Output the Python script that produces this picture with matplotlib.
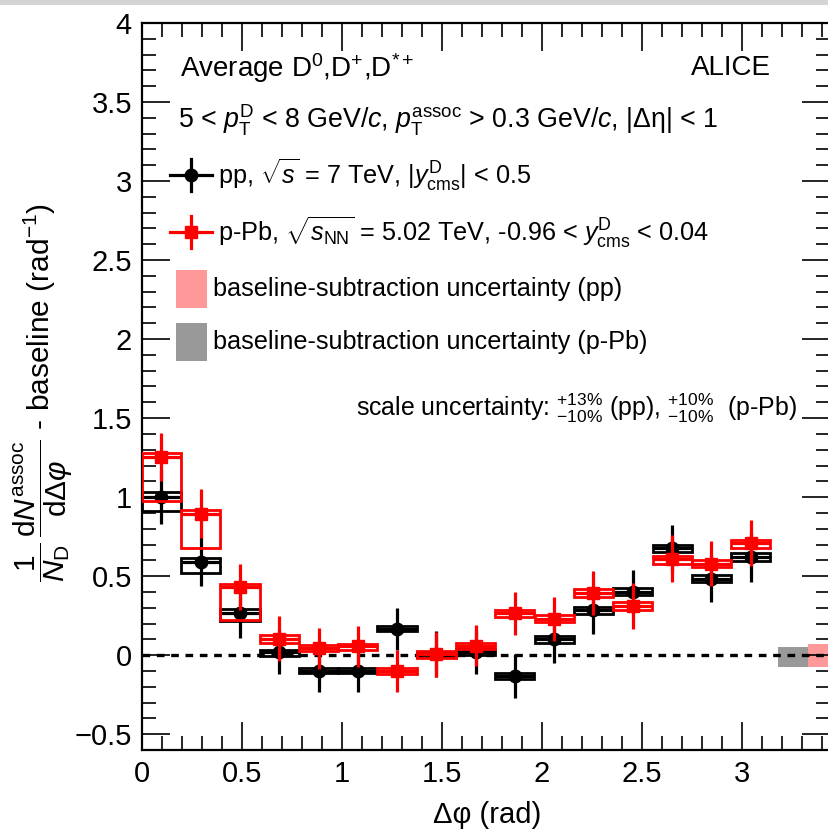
import matplotlib
matplotlib.use("Agg")
import matplotlib.pyplot as plt
from matplotlib.ticker import MultipleLocator, FuncFormatter
from matplotlib.lines import Line2D
from matplotlib.patches import Rectangle

plt.rcParams['font.family'] = ['Liberation Sans', 'DejaVu Sans']
plt.rcParams['mathtext.fontset'] = 'custom'
plt.rcParams['mathtext.rm'] = 'Liberation Sans'
plt.rcParams['mathtext.it'] = 'Liberation Sans:italic'
plt.rcParams['mathtext.bf'] = 'Liberation Sans:bold'
plt.rcParams['mathtext.sf'] = 'Liberation Sans'

# ---------------- data ----------------
dphi = [0.098, 0.295, 0.491, 0.687, 0.884, 1.080, 1.276, 1.473,
        1.669, 1.865, 2.062, 2.258, 2.454, 2.651, 2.847, 3.043]
half_width = 0.098

pp_val = [1.00, 0.59, 0.27, 0.02, -0.10, -0.10, 0.165, 0.005,
          0.02, -0.13, 0.10, 0.285, 0.40, 0.675, 0.485, 0.62]
pp_stat = [0.17, 0.155, 0.16, 0.14, 0.135, 0.135, 0.135, 0.145,
           0.14, 0.14, 0.15, 0.15, 0.14, 0.15, 0.15, 0.155]
pp_sys_up = [0.03, 0.025, 0.02, 0.015, 0.017, 0.017, 0.017, 0.017,
             0.017, 0.02, 0.02, 0.022, 0.022, 0.025, 0.025, 0.025]
pp_sys_lo = [0.09, 0.07, 0.053, 0.027, 0.015, 0.015, 0.015, 0.017,
             0.017, 0.02, 0.02, 0.022, 0.022, 0.025, 0.025, 0.025]

ppb_val = [1.255, 0.895, 0.43, 0.105, 0.045, 0.055, -0.10, 0.005,
           0.06, 0.265, 0.23, 0.395, 0.31, 0.61, 0.58, 0.71]
ppb_stat = [0.15, 0.155, 0.145, 0.14, 0.13, 0.13, 0.13, 0.14,
            0.13, 0.135, 0.14, 0.14, 0.145, 0.15, 0.145, 0.148]
ppb_sys_up = [0.025, 0.025, 0.023, 0.02, 0.017, 0.017, 0.02, 0.02,
              0.02, 0.022, 0.022, 0.025, 0.025, 0.02, 0.025, 0.02]
ppb_sys_lo = [0.28, 0.22, 0.21, 0.025, 0.02, 0.02, 0.02, 0.02,
              0.02, 0.022, 0.022, 0.025, 0.025, 0.035, 0.025, 0.03]

# baseline-subtraction uncertainty bands (x-from, x-to, low, high)
base_ppb = (3.18, 3.33, -0.075, 0.05)
base_pp = (3.33, 3.50, -0.075, 0.07)

x_ticks_major = 0.5
y_ticks_major = 0.5

# ---------------- figure ----------------
W, H = 829, 832
fig = plt.figure(figsize=(W / 100, H / 100), dpi=100)
L, R, T, B = 141.7, 830.0, 23.0, 750.0
ax = fig.add_axes([L / W, 1 - B / H, (R - L) / W, (B - T) / H])
ax.set_xlim(0, 3.44)
ax.set_ylim(-0.6, 4.0)

red = '#ff0000'
black = '#000000'

# baseline uncertainty boxes
ax.bar([(base_ppb[0] + base_ppb[1]) / 2], [base_ppb[3] - base_ppb[2]],
       width=base_ppb[1] - base_ppb[0], bottom=base_ppb[2],
       color='#999999', edgecolor='none', zorder=1)
ax.bar([(base_pp[0] + base_pp[1]) / 2], [base_pp[3] - base_pp[2]],
       width=base_pp[1] - base_pp[0], bottom=base_pp[2],
       color='#ff9999', edgecolor='none', zorder=1)

ax.axhline(0, color='black', lw=2.4, dashes=(2.3, 2.0), zorder=2)

def draw_series(vals, stat, sup, slo, col, marker, ms, z):
    bottoms = [v - l for v, l in zip(vals, slo)]
    heights = [u + l for u, l in zip(sup, slo)]
    ax.bar(dphi, heights, width=2 * half_width, bottom=bottoms,
           fill=False, edgecolor=col, linewidth=2.0, zorder=z)
    ax.errorbar(dphi, vals, xerr=half_width, yerr=stat, fmt=marker,
                color=col, ms=ms, elinewidth=2.3, capsize=0, zorder=z + 1)

draw_series(pp_val, pp_stat, pp_sys_up, pp_sys_lo, black, 'o', 9, 3)
draw_series(ppb_val, ppb_stat, ppb_sys_up, ppb_sys_lo, red, 's', 9, 5)

# axes style
ax.xaxis.set_major_locator(MultipleLocator(x_ticks_major))
ax.xaxis.set_minor_locator(MultipleLocator(0.1))
ax.yaxis.set_major_locator(MultipleLocator(y_ticks_major))
ax.yaxis.set_minor_locator(MultipleLocator(0.1))

def fmt(v, pos):
    s = ('%g' % round(v, 3))
    return s.replace('-', '\u2212')
ax.xaxis.set_major_formatter(FuncFormatter(fmt))
ax.yaxis.set_major_formatter(FuncFormatter(fmt))
ax.tick_params(which='both', direction='in', top=True, right=True,
               labelsize=21, width=1.2, pad=7)
ax.tick_params(which='major', length=20)
ax.tick_params(which='minor', length=10)
for s in ax.spines.values():
    s.set_linewidth(1.6)

def fx(px):
    return (px - L) / (R - L)

def fy(py):
    return (B - py) / (B - T)

tr = ax.transAxes
fs = 18.2
ax.text(fx(180), fy(68), r'Average D$^{0}$,D$^{+}$,D$^{*+}$', transform=tr,
        fontsize=20, ha='left', va='center')
ax.text(fx(771), fy(68), 'ALICE', transform=tr, fontsize=20,
        ha='right', va='center')
ax.text(fx(178), fy(120),
        r'5 < $p_{\mathrm{T}}^{\mathrm{D}}$ < 8 GeV/$c$, $p_{\mathrm{T}}^{\mathrm{assoc}}$ > 0.3 GeV/$c$, |Δη| < 1',
        transform=tr, fontsize=19.3, ha='left', va='center')

# legend-like entries
for cy, col, mk, label in [
        (175, black, 'o', r'pp, $\sqrt{s}$ = 7 TeV, |$y^{\mathrm{D}}_{\mathrm{cms}}$| < 0.5'),
        (232, red, 's', r'p-Pb, $\sqrt{s_{\mathrm{NN}}}$ = 5.02 TeV, -0.96 < $y^{\mathrm{D}}_{\mathrm{cms}}$ < 0.04')]:
    ax.add_line(Line2D([fx(170), fx(212)], [fy(cy), fy(cy)], color=col,
                       lw=2.3, transform=tr, clip_on=False))
    ax.add_line(Line2D([fx(191), fx(191)], [fy(cy - 16), fy(cy + 16)],
                       color=col, lw=2.3, transform=tr, clip_on=False))
    ax.add_line(Line2D([fx(191)], [fy(cy)], marker=mk, ms=9, color=col,
                       transform=tr, clip_on=False))
    ax.text(fx(218), fy(cy), label, transform=tr, fontsize=fs,
            ha='left', va='center')

for cy, col, label in [(289, '#ff9999', 'baseline-subtraction uncertainty (pp)'),
                       (342, '#999999', 'baseline-subtraction uncertainty (p-Pb)')]:
    ax.add_patch(Rectangle((fx(176), fy(cy + 19)), fx(207) - fx(176),
                           fy(cy - 19) - fy(cy + 19), transform=tr,
                           color=col, lw=0))
    ax.text(fx(213), fy(cy), label, transform=tr, fontsize=fs,
            ha='left', va='center')

ax.text(fx(797), fy(408),
        r'scale uncertainty: $^{+13\%}_{-10\%}$ (pp), $^{+10\%}_{-10\%}$  (p-Pb)',
        transform=tr, fontsize=17.9, ha='right', va='center')

# axis titles
fig.text(487 / W, 1 - 815 / H, 'Δφ (rad)', fontsize=21, ha='center', va='center')
fig.text(43 / W, 1 - 393 / H,
         r'$\dfrac{1}{N_{\mathrm{D}}}\,\dfrac{\mathrm{d}N^{\mathrm{assoc}}}{\mathrm{d}\Delta\varphi}$ - baseline (rad$^{-1}$)',
         fontsize=21.5, rotation=90, ha='center', va='center')

# top screenshot band
fig.patches.append(Rectangle((0, 1 - 5 / H), 1, 5 / H, transform=fig.transFigure,
                             color='#d4d4d4', lw=0, zorder=0))

fig.savefig('out.png', dpi=100)
